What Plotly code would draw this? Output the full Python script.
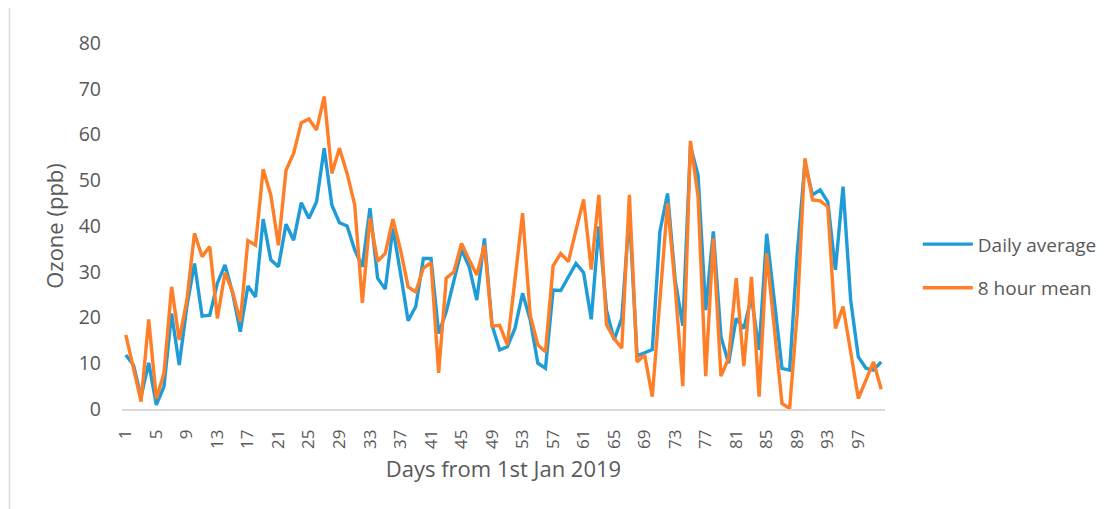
import plotly.graph_objects as go

#### Ozone, days from 1st Jan 2019 ####

days = list(range(1, 101))

daily_average = [
    11.8, 9.6, 2.7, 10.1, 0.9, 4.9, 20.9, 9.6, 22.4, 31.8,
    20.3, 20.5, 27.5, 31.5, 25.3, 16.9, 26.9, 24.5, 41.5, 32.6,
    31.1, 40.4, 36.9, 45.1, 41.7, 45.3, 57.0, 44.6, 40.7, 40.0,
    34.8, 31.1, 43.9, 28.6, 26.2, 39.5, 29.7, 19.3, 22.4, 32.9,
    32.9, 16.5, 21.3, 28.2, 34.8, 31.1, 23.8, 37.3, 18.3, 12.9,
    13.6, 17.6, 25.3, 19.5, 10.0, 8.9, 26.0, 25.9, 28.9, 31.8,
    29.8, 19.6, 39.9, 21.6, 15.1, 19.8, 42.8, 11.6, 12.3, 13.0,
    38.8, 47.1, 28.2, 18.2, 57.5, 51.1, 21.6, 38.8, 15.8, 10.0,
    19.8, 17.6, 24.5, 12.9, 38.3, 23.8, 8.9, 8.5, 34.0, 53.7,
    46.8, 47.9, 45.3, 30.4, 48.6, 23.8, 11.4, 8.9, 8.5, 10.3,
]

eight_hour_mean = [
    16.2, 9.0, 1.6, 19.6, 2.3, 7.8, 26.7, 15.1, 23.8, 38.4,
    33.3, 35.5, 19.8, 29.8, 25.6, 19.1, 36.8, 35.8, 52.4, 46.8,
    35.8, 52.2, 55.9, 62.6, 63.4, 61.0, 68.3, 51.5, 57.0, 51.5,
    44.6, 23.2, 41.7, 32.3, 34.0, 41.5, 34.8, 26.7, 25.6, 30.8,
    32.0, 7.9, 28.6, 30.0, 36.2, 32.6, 29.3, 35.8, 18.1, 18.3,
    14.0, 28.2, 42.8, 20.5, 14.0, 12.5, 31.3, 34.0, 32.2, 39.1,
    45.8, 30.5, 46.8, 18.4, 15.4, 13.3, 46.8, 10.3, 11.8, 2.7,
    24.5, 45.0, 26.7, 5.0, 58.6, 46.4, 7.2, 37.3, 7.2, 11.1,
    28.6, 9.4, 28.9, 2.7, 34.0, 17.3, 1.2, 0.1, 21.0, 54.8,
    45.7, 45.5, 44.2, 17.6, 22.4, 12.5, 2.3, 6.3, 10.3, 4.3,
]

x_ticks = list(range(1, 101, 4))

grey = "#595959"

fig = go.Figure()
fig.add_trace(go.Scatter(x=days, y=daily_average, mode="lines", name="Daily average",
                         legendgroup="a", line=dict(color="#1f9bd7", width=3.4)))
fig.add_trace(go.Scatter(x=days, y=eight_hour_mean, mode="lines", name="8 hour mean",
                         legendgroup="b", line=dict(color="#fe7f27", width=3.4)))

# page body has an 8px margin, so the margins are shifted to compensate
fig.update_layout(
    width=1115, height=509,
    margin={"l": 114, "r": 238, "t": 35, "b": 108},
    paper_bgcolor="white", plot_bgcolor="white",
    font=dict(family="Open Sans", color=grey),
    legend=dict(x=1.043, y=0.39, xanchor="left", yanchor="middle", itemwidth=50,
                font=dict(size=19, color=grey), tracegroupgap=16),
    xaxis=dict(range=[0.5, 100.5], tickvals=x_ticks, ticktext=[str(t) for t in x_ticks],
               tickangle=-90, tickfont=dict(size=17, color=grey),
               showgrid=False, zeroline=False, showline=True, linecolor="#d9d9d9", linewidth=1.5,
               ticks="", ticklabelstandoff=12,
               title=dict(text="Days from 1st Jan 2019", font=dict(size=22, color=grey), standoff=14)),
    yaxis=dict(range=[0, 80], dtick=10, tickfont=dict(size=19.5, color=grey),
               showgrid=False, zeroline=False, showline=False, ticks="", ticklabelstandoff=20,
               title=dict(text="Ozone (ppb)", font=dict(size=22, color=grey), standoff=8)),
    shapes=[dict(type="line", xref="paper", yref="paper", x0=-0.1475, x1=-0.1475, y0=-0.4, y1=1.2,
                 line=dict(color="#d9d9d9", width=1.5))],
)

fig.write_html("out.html")
